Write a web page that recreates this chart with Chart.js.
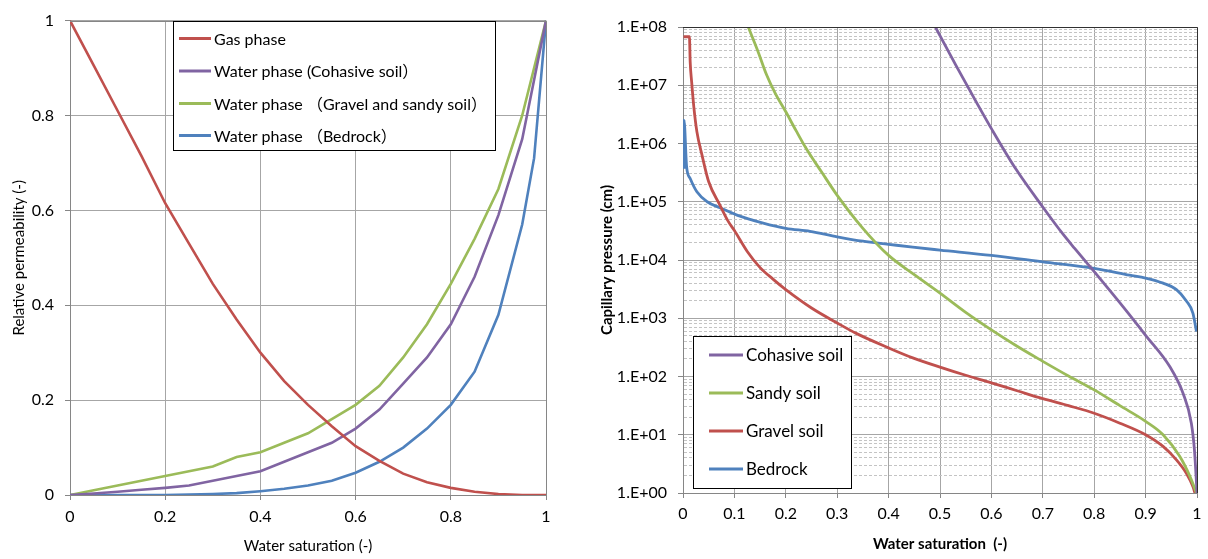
<!DOCTYPE html>
<html>
<head>
<meta charset="utf-8">
<script src="https://cdn.jsdelivr.net/npm/chart.js@4.4.1/dist/chart.umd.min.js"></script>
<style>
  html, body { margin: 0; padding: 0; background: #fff; }
  #wrap { position: relative; width: 1208px; height: 559px; }
  .panel { position: absolute; top: 0; height: 559px; }
  #left { left: 0; width: 590px; }
  #right { left: 590px; width: 618px; }
</style>
</head>
<body>
<div id="wrap">
  <div class="panel" id="left"><canvas id="krChart"></canvas></div>
  <div class="panel" id="right"><canvas id="pcChart"></canvas></div>
</div>
<script>
// ---- Relative permeability vs water saturation ----
const satSteps = [0, 0.05, 0.1, 0.15, 0.2, 0.25, 0.3, 0.35, 0.4, 0.45, 0.5,
                  0.55, 0.6, 0.65, 0.7, 0.75, 0.8, 0.85, 0.9, 0.95, 1];
const krGas      = [1, 0.905, 0.81, 0.715, 0.615, 0.53, 0.445, 0.37, 0.30, 0.24, 0.19,
                    0.145, 0.103, 0.072, 0.045, 0.027, 0.015, 0.007, 0.002, 0.0, 0];
const krCohesive = [0, 0.003, 0.007, 0.011, 0.015, 0.02, 0.03, 0.04, 0.05, 0.07, 0.09,
                    0.11, 0.14, 0.18, 0.235, 0.29, 0.36, 0.46, 0.59, 0.75, 1];
const krSandy    = [0, 0.01, 0.02, 0.03, 0.04, 0.05, 0.06, 0.08, 0.09, 0.11, 0.13,
                    0.16, 0.19, 0.23, 0.29, 0.36, 0.445, 0.54, 0.645, 0.80, 1];
const bedrockSat = [0, 0.05, 0.1, 0.15, 0.2, 0.25, 0.3, 0.35, 0.4, 0.45, 0.5,
                    0.55, 0.6, 0.65, 0.7, 0.75, 0.8, 0.85, 0.9, 0.95, 0.975, 1];
const krBedrock  = [0, 0, 0, 0, 0, 0.001, 0.002, 0.004, 0.008, 0.013, 0.02,
                    0.03, 0.047, 0.07, 0.10, 0.14, 0.19, 0.26, 0.38, 0.57, 0.71, 1];
const krLabels = ['Gas phase', 'Water phase (Cohasive soil）',
                  'Water phase （Gravel and sandy soil）', 'Water phase （Bedrock）'];

// ---- Capillary pressure (cm) vs water saturation ----
const cohesiveSw = [0.491, 0.531, 0.565, 0.6, 0.648, 0.701, 0.739, 0.762, 0.8, 0.856,
                    0.9, 0.947, 0.973, 0.989, 0.995, 0.999, 1.0];
const cohesivePc = [1e8, 2.2e7, 6.3e6, 1.8e6, 3.6e5, 7.9e4, 2.8e4, 1.58e4, 6.3e3, 1.58e3,
                    510, 148, 51, 15.8, 5.5, 1.48, 1];
const sandySw = [0.127, 0.145, 0.163, 0.18, 0.2, 0.22, 0.24, 0.27, 0.3, 0.35, 0.4, 0.45,
                 0.5, 0.55, 0.6, 0.65, 0.7, 0.75, 0.8, 0.85, 0.9, 0.934, 0.966, 0.986, 0.999];
const sandyPc = [1e8, 4e7, 1.48e7, 7.1e6, 3.5e6, 1.66e6, 8.1e5, 3.2e5, 1.29e5, 3.5e4, 1.2e4, 5.6e3,
                 2.7e3, 1.26e3, 630, 330, 182, 102, 59, 31.6, 17, 10, 4.3, 1.95, 1];
const gravelSw = [0.001, 0.0125, 0.014, 0.0168, 0.021, 0.027, 0.037, 0.05, 0.072, 0.088,
                  0.1, 0.125, 0.15, 0.175, 0.2, 0.25, 0.3, 0.337, 0.4, 0.447,
                  0.5, 0.55, 0.6, 0.65, 0.7, 0.75, 0.8, 0.85, 0.9, 0.934,
                  0.96, 0.979, 0.992, 0.996];
const gravelPc = [6.8e7, 6.8e7, 2.5e7, 1.15e7, 4.3e6, 1.6e6, 6.3e5, 2.2e5, 8.7e4, 4.6e4,
                  3.2e4, 1.4e4, 7.4e3, 4.7e3, 3.1e3, 1.5e3, 830, 550, 310, 209,
                  145, 105, 78, 57, 41.7, 31.6, 23.4, 15.8, 10, 6.3,
                  3.7, 2.2, 1.29, 1];
const bedrockSw = [0.002, 0.002, 0.007, 0.014, 0.027, 0.047, 0.072, 0.105, 0.156, 0.2,
                   0.247, 0.3, 0.35, 0.4, 0.447, 0.5, 0.6, 0.7, 0.8, 0.869,
                   0.9, 0.934, 0.96, 0.979, 0.992, 0.999];
const bedrockPc = [3.7e5, 2.5e6, 4e5, 2.5e5, 1.48e5, 1e5, 7.9e4, 5.9e4, 4.3e4, 3.5e4,
                   3.1e4, 2.5e4, 2.1e4, 1.86e4, 1.66e4, 1.48e4, 1.2e4, 9.3e3, 7.2e3, 5.5e3,
                   4.9e3, 4e3, 3.1e3, 2e3, 1.23e3, 590];
const pcLabels = ['Cohasive soil', 'Sandy soil', 'Gravel soil', 'Bedrock'];
const pcTickLabels = ['1.E+00', '1.E+01', '1.E+02', '1.E+03', '1.E+04',
                      '1.E+05', '1.E+06', '1.E+07', '1.E+08'];

const RED = '#C0504D', PURPLE = '#8064A2', GREEN = '#9BBB59', BLUE = '#4F81BD';
const FONT = 'Lato, "Noto Sans CJK JP", sans-serif';

Chart.defaults.font.family = FONT;
Chart.defaults.font.size = 16;
Chart.defaults.color = '#000';

const pairs = (xs, ys) => xs.map((x, i) => ({ x: x, y: ys[i] }));

// Legend drawn as a framed box inside the plot area
const boxLegend = {
  id: 'boxLegend',
  afterDraw(chart, args, o) {
    const ctx = chart.ctx;
    ctx.save();
    ctx.fillStyle = '#fff';
    ctx.fillRect(o.x, o.y, o.w, o.h);
    ctx.strokeStyle = '#000';
    ctx.lineWidth = 1;
    ctx.strokeRect(o.x + 0.5, o.y + 0.5, o.w, o.h);
    ctx.font = o.font;
    ctx.textBaseline = 'middle';
    chart.data.datasets.forEach((ds, i) => {
      const y = o.rows[i];
      ctx.strokeStyle = ds.borderColor;
      ctx.lineWidth = 3;
      ctx.beginPath();
      ctx.moveTo(o.lineX0, y);
      ctx.lineTo(o.lineX1, y);
      ctx.stroke();
      ctx.fillStyle = '#000';
      ctx.fillText(ds.label, o.textX, y + 1);
    });
    ctx.restore();
  }
};

// Outer edges of the plot area (top and right)
const plotFrame = {
  id: 'plotFrame',
  afterDatasetsDraw(chart, args, o) {
    const a = chart.chartArea, ctx = chart.ctx;
    ctx.save();
    ctx.strokeStyle = o.color;
    ctx.lineWidth = 1;
    ctx.beginPath();
    ctx.moveTo(Math.round(a.left), Math.round(a.top) + 0.5);
    ctx.lineTo(Math.round(a.right) + 0.5, Math.round(a.top) + 0.5);
    ctx.lineTo(Math.round(a.right) + 0.5, Math.round(a.bottom));
    ctx.stroke();
    ctx.restore();
  }
};

const fmt = v => String(Math.round(v * 10) / 10);

new Chart(document.getElementById('krChart'), {
  type: 'line',
  data: {
    datasets: [
      { label: krLabels[0], data: pairs(satSteps, krGas), borderColor: RED },
      { label: krLabels[1], data: pairs(satSteps, krCohesive), borderColor: PURPLE },
      { label: krLabels[2], data: pairs(satSteps, krSandy), borderColor: GREEN },
      { label: krLabels[3], data: pairs(bedrockSat, krBedrock), borderColor: BLUE }
    ]
  },
  options: {
    responsive: true,
    maintainAspectRatio: false,
    animation: false,
    layout: { padding: { left: 0, right: 44, top: 10, bottom: 0 } },
    elements: { point: { radius: 0 }, line: { borderWidth: 2.6, tension: 0, fill: false } },
    plugins: {
      legend: { display: false },
      tooltip: { enabled: false },
      boxLegend: {
        x: 173, y: 21, w: 322, h: 129,
        rows: [38.5, 71, 103.5, 135.5],
        lineX0: 179, lineX1: 211, textX: 214,
        font: '16px ' + FONT
      },
      plotFrame: { color: '#868686' }
    },
    scales: {
      x: {
        type: 'linear', min: 0, max: 1,
        afterFit: s => { s.height = 64; },
        ticks: { stepSize: 0.2, padding: 7, callback: fmt, maxRotation: 0 },
        grid: { color: '#a6a6a6', tickLength: 5, tickColor: '#868686' },
        border: { color: '#868686' },
        title: { display: true, text: 'Water saturation (-)', font: { size: 15 }, padding: { top: 0, bottom: 4 } }
      },
      y: {
        type: 'linear', min: 0, max: 1,
        afterFit: s => { s.width = 70; },
        ticks: { stepSize: 0.2, padding: 11, callback: fmt },
        grid: { color: '#a6a6a6', tickLength: 5, tickColor: '#868686' },
        border: { color: '#868686' },
        title: { display: true, text: 'Relative permeability (-)', font: { size: 15 }, padding: { top: 10, bottom: 0 } }
      }
    }
  },
  plugins: [boxLegend, plotFrame]
});

const isDecade = v => Math.abs(Math.log10(v) - Math.round(Math.log10(v))) < 1e-9;

new Chart(document.getElementById('pcChart'), {
  type: 'line',
  data: {
    datasets: [
      { label: pcLabels[0], data: pairs(cohesiveSw, cohesivePc), borderColor: PURPLE },
      { label: pcLabels[1], data: pairs(sandySw, sandyPc), borderColor: GREEN },
      { label: pcLabels[2], data: pairs(gravelSw, gravelPc), borderColor: RED },
      { label: pcLabels[3], data: pairs(bedrockSw, bedrockPc), borderColor: BLUE }
    ]
  },
  options: {
    responsive: true,
    maintainAspectRatio: false,
    animation: false,
    layout: { padding: { left: 0, right: 11, top: 27, bottom: 0 } },
    elements: {
      point: { radius: 0 },
      line: { borderWidth: 2.8, cubicInterpolationMode: 'monotone', fill: false }
    },
    plugins: {
      legend: { display: false },
      tooltip: { enabled: false },
      boxLegend: {
        x: 103, y: 336, w: 158, h: 152,
        rows: [355, 393, 431, 469],
        lineX0: 119, lineX1: 153, textX: 156,
        font: '17px ' + FONT
      },
      plotFrame: { color: '#303030' }
    },
    scales: {
      x: {
        type: 'linear', min: 0, max: 1,
        afterFit: s => { s.height = 66; },
        ticks: { stepSize: 0.1, padding: 6, callback: fmt, maxRotation: 0, autoSkip: false },
        grid: { color: '#a6a6a6', tickLength: 5, tickColor: '#868686' },
        border: { color: '#868686' },
        title: { display: true, text: 'Water saturation  (-)', font: { size: 15, weight: 'bold' }, padding: { top: 0, bottom: 6 } }
      },
      y: {
        type: 'logarithmic', min: 1, max: 1e8,
        afterFit: s => { s.width = 93; },
        afterBuildTicks: s => {
          const ticks = [];
          for (let e = 0; e < pcTickLabels.length; e++) {
            const base = Math.pow(10, e);
            const last = e === pcTickLabels.length - 1 ? 1 : 9;
            for (let m = 1; m <= last; m++) ticks.push({ value: m * base, major: m === 1 });
          }
          s.ticks = ticks;
        },
        ticks: {
          autoSkip: false, padding: 11,
          callback: v => isDecade(v) ? pcTickLabels[Math.round(Math.log10(v))] : ''
        },
        grid: {
          color: c => (c.tick && !isDecade(c.tick.value)) ? '#c4c4c4' : '#a6a6a6',
          tickColor: c => (c.tick && !isDecade(c.tick.value)) ? 'rgba(0,0,0,0)' : '#868686',
          tickLength: 5
        },
        border: {
          color: '#868686',
          dash: c => (c.tick && !isDecade(c.tick.value)) ? [3, 2] : []
        },
        title: { display: true, text: 'Capillary pressure (cm)', font: { size: 15, weight: 'bold' }, padding: { top: 8, bottom: 0 } }
      }
    }
  },
  plugins: [boxLegend, plotFrame]
});
</script>
</body>
</html>
